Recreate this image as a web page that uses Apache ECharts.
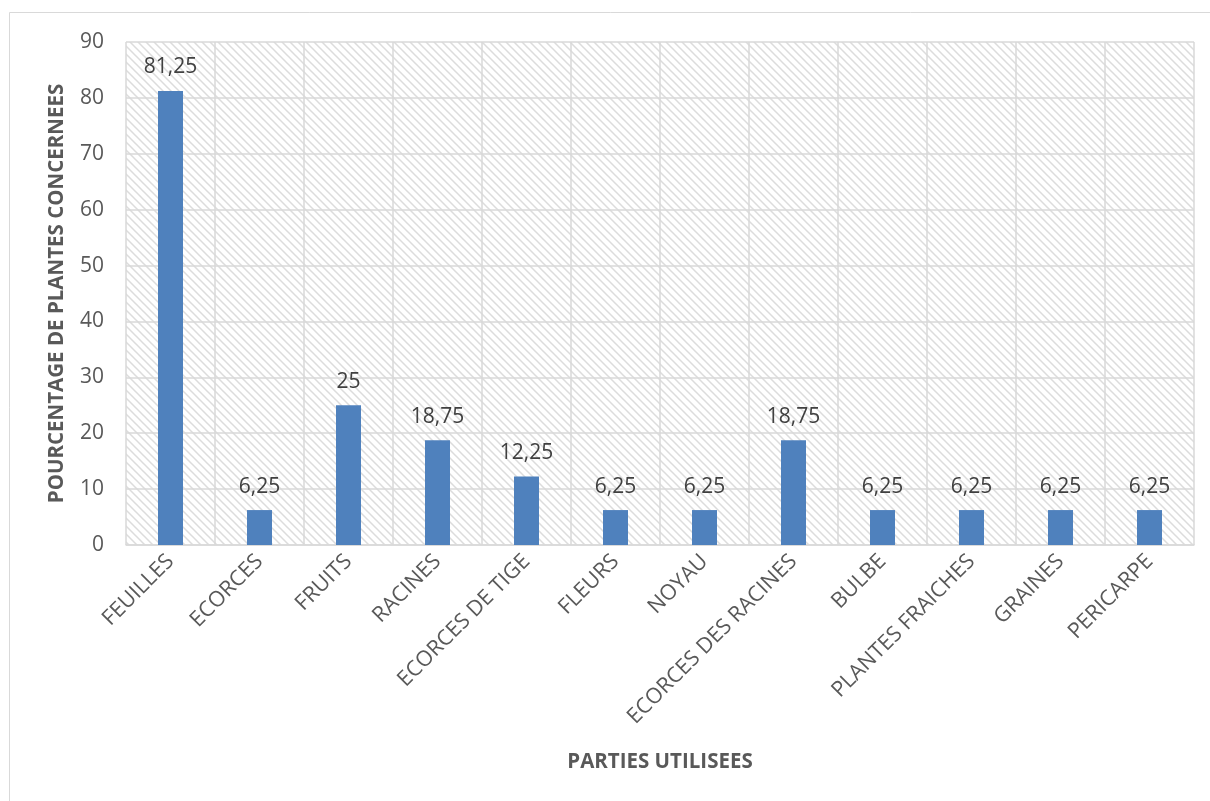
<!DOCTYPE html>
<html><head><meta charset="utf-8">
<script src="https://cdn.jsdelivr.net/npm/echarts@6/dist/echarts.min.js"></script>
<style>html,body{margin:0;padding:0;background:#fff}#c{width:1210px;height:801px}</style>
</head><body><div id="c"></div>
<script>
const categories = ['FEUILLES','ECORCES','FRUITS','RACINES','ECORCES DE TIGE','FLEURS','NOYAU','ECORCES DES RACINES','BULBE','PLANTES FRAICHES','GRAINES','PERICARPE'];
const values = [81.25, 6.25, 25, 18.75, 12.25, 6.25, 6.25, 18.75, 6.25, 6.25, 6.25, 6.25];
const yTicks = [0,10,20,30,40,50,60,70,80,90];
const xTitle = 'PARTIES UTILISEES';
const yTitle = 'POURCENTAGE DE PLANTES CONCERNEES';

// hatch pattern
const pc = document.createElement('canvas');
pc.width = 8; pc.height = 8;
const g = pc.getContext('2d');
g.fillStyle = '#ffffff'; g.fillRect(0,0,8,8);
g.strokeStyle = '#dcdcdc'; g.lineWidth = 1.5;
g.beginPath();
g.moveTo(-2,-2); g.lineTo(10,10);
g.moveTo(-2,6); g.lineTo(2,10);
g.moveTo(6,-2); g.lineTo(10,2);
g.stroke();

const FONT = '"Open Sans", Calibri, sans-serif';
const chart = echarts.init(document.getElementById('c'), null, {renderer:'canvas'});
chart.setOption({
  animation:false,
  backgroundColor:'#ffffff',
  graphic:[{type:'rect', shape:{x:9.5,y:12.5,width:1210,height:800}, style:{fill:'none', stroke:'#d9d9d9', lineWidth:1}, z:-10}],
  grid:{left:126, right:16, top:42, bottom:256, show:true, backgroundColor:{image:pc, repeat:'repeat'}, borderWidth:0},
  xAxis:{type:'category', data:categories,
    axisLine:{lineStyle:{color:'#d9d9d9', width:1.5}}, axisTick:{show:false},
    splitLine:{show:true, lineStyle:{color:'#d9d9d9', width:1.5}},
    axisLabel:{rotate:45, color:'#595959', fontSize:21.5, fontFamily:FONT, margin:13, interval:0},
    name:xTitle, nameLocation:'middle', nameGap:207,
    nameTextStyle:{fontWeight:'bold', fontSize:20.5, color:'#595959', fontFamily:FONT}},
  yAxis:{type:'value', min:yTicks[0], max:yTicks[yTicks.length-1], interval:10,
    axisLine:{show:false}, axisTick:{show:false},
    splitLine:{lineStyle:{color:'#d9d9d9', width:1.5}},
    axisLabel:{color:'#595959', fontSize:21, fontFamily:FONT, margin:22},
    name:yTitle, nameLocation:'middle', nameGap:58, nameRotate:90,
    nameTextStyle:{fontWeight:'bold', fontSize:20.5, color:'#595959', fontFamily:FONT}},
  series:[{type:'bar', data:values, barWidth:25,
    itemStyle:{color:'#4f81bd'},
    label:{show:true, position:'top', distance:13, color:'#404040', fontSize:21, fontFamily:FONT,
      formatter:p=>String(p.value).replace('.',',')}}]
});
</script></body></html>
